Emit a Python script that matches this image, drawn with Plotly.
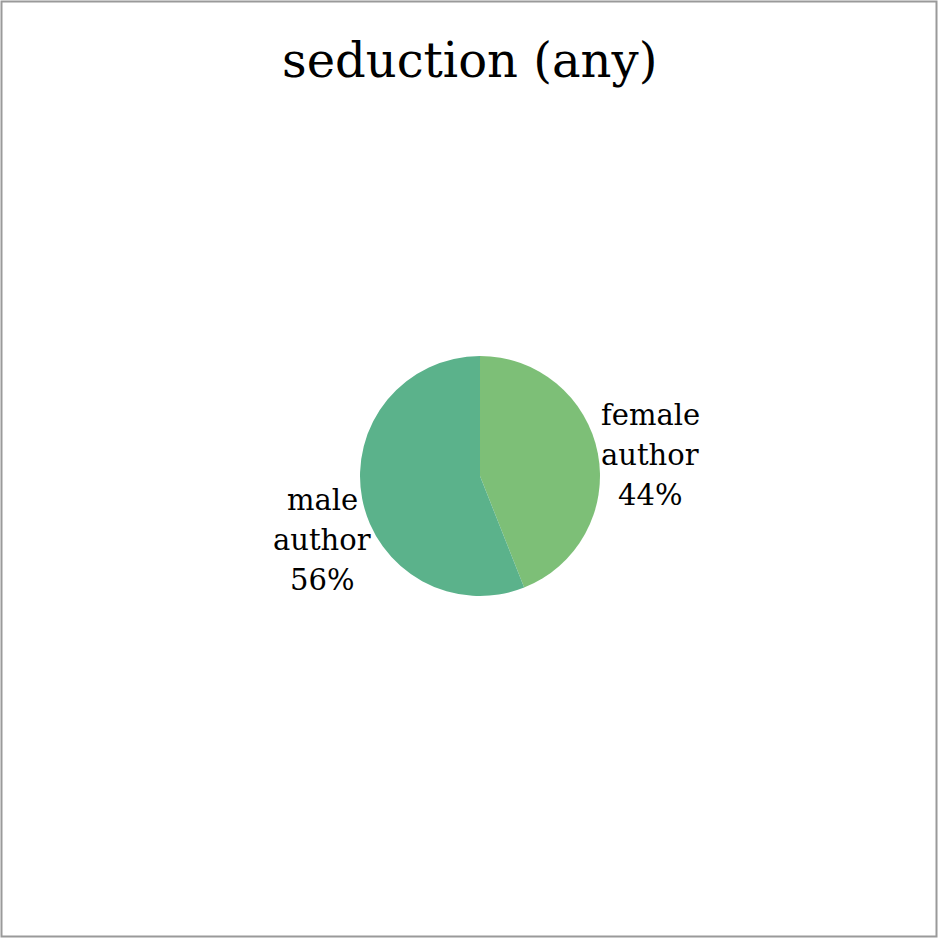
import plotly.graph_objects as go

labels = ["female author", "male author"]
values = [44, 56]
colors = ["#7DBF77", "#5BB28B"]
title = "seduction (any)"

W = H = 938
cx, cy, r = 480, 476, 120

fig = go.Figure(go.Pie(
    labels=labels, values=values, sort=False, direction="clockwise", rotation=0,
    marker=dict(colors=colors, line=dict(width=0)),
    textinfo="none", hoverinfo="label+percent", showlegend=False,
    domain=dict(x=[(cx - r) / W, (cx + r) / W], y=[1 - (cy + r) / H, 1 - (cy - r) / H]),
))

total = sum(values)
label_pos = [(650, 415), (322, 500)]  # center x, first line y (pixels)
annotations = []
for lab, v, (lx, ly) in zip(labels, values, label_pos):
    lines = lab.split(" ") + [f"{round(100 * v / total)}%"]
    for i, ln in enumerate(lines):
        annotations.append(dict(
            text=ln, x=lx / W, y=1 - (ly + 40 * i) / H, xref="paper", yref="paper",
            showarrow=False, xanchor="center", yanchor="middle",
            font=dict(family="DejaVu Serif, serif", size=29, color="#000"),
        ))
annotations.append(dict(
    text=title, x=469 / W, y=1 - 60 / H, xref="paper", yref="paper",
    showarrow=False, xanchor="center", yanchor="middle",
    font=dict(family="DejaVu Serif, serif", size=48, color="#000"),
))

fig.update_layout(
    width=W, height=H, margin=dict(l=0, r=0, t=0, b=0),
    paper_bgcolor="white", plot_bgcolor="white",
    annotations=annotations,
    shapes=[dict(type="rect", xref="paper", yref="paper",
                 x0=1.5 / W, x1=1 - 1.5 / W, y0=1.5 / H, y1=1 - 1.5 / H,
                 line=dict(color="#9A9A9A", width=2))],
)
fig.write_html("out.html")
